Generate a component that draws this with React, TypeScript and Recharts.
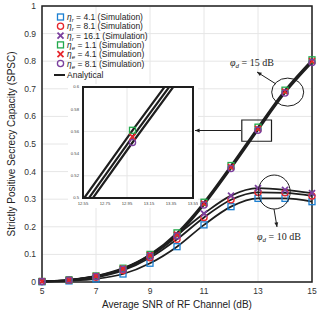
import React from "react"
import {
  CartesianGrid,
  ComposedChart,
  Line,
  LineChart,
  ReferenceArea,
  ReferenceDot,
  XAxis,
  YAxis,
} from "recharts"

// average SNR of the RF channel (dB)
const snr = [5, 6, 7, 8, 9, 10, 11, 12, 13, 14, 15]

// phi_d = 15 dB bundle (eta_e = 1.1, 4.1, 8.1)
const spsc15a = [0.002, 0.008, 0.022, 0.05, 0.1, 0.178, 0.289, 0.422, 0.561, 0.695, 0.805]
const spsc15b = [0.002, 0.007, 0.021, 0.048, 0.097, 0.172, 0.284, 0.416, 0.555, 0.69, 0.8]
const spsc15c = [0.002, 0.007, 0.02, 0.046, 0.094, 0.167, 0.279, 0.411, 0.55, 0.685, 0.795]

// phi_d = 10 dB bundle (eta_r = 16.1, 8.1, 4.1)
const spsc10a = [0.002, 0.007, 0.02, 0.047, 0.097, 0.17, 0.248, 0.313, 0.34, 0.334, 0.322]
const spsc10b = [0.002, 0.006, 0.017, 0.042, 0.088, 0.155, 0.234, 0.298, 0.325, 0.323, 0.312]
const spsc10c = [0.001, 0.004, 0.011, 0.029, 0.068, 0.128, 0.207, 0.273, 0.303, 0.303, 0.291]

const xTicks = [5, 7, 9, 11, 13, 15]
const yTicks = [0, 0.1, 0.2, 0.3, 0.4, 0.5, 0.6, 0.7, 0.8, 0.9, 1]
const insetXTicks = [12.55, 12.75, 12.95, 13.15, 13.35, 13.55]
const insetYTicks = [0.5, 0.52, 0.54, 0.56, 0.58, 0.6]
const insetMarkAt = 13

const BLUE = "#1b7fd1"
const RED = "#e6262c"
const PURPLE = "#7b3f9e"
const GREEN = "#22a94b"
const INK = "#1e1e1e"

const rows = snr.map((x, i) => ({
  snr: x,
  a15: spsc15a[i],
  b15: spsc15b[i],
  c15: spsc15c[i],
  a10: spsc10a[i],
  b10: spsc10b[i],
  c10: spsc10c[i],
}))

const insetRows = rows.filter((r) => r.snr >= 12 && r.snr <= 14)

type Shape = "square" | "circle" | "x"

function Marker({ shape, color, cx, cy }: { shape: Shape; color: string; cx: number; cy: number }) {
  if (shape === "square")
    return <rect x={cx - 3} y={cy - 3} width={6} height={6} fill="none" stroke={color} strokeWidth={1.3} />
  if (shape === "circle") return <circle cx={cx} cy={cy} r={3.1} fill="none" stroke={color} strokeWidth={1.3} />
  return (
    <g stroke={color} strokeWidth={1.8}>
      <line x1={cx - 3} y1={cy - 3} x2={cx + 3} y2={cy + 3} />
      <line x1={cx - 3} y1={cy + 3} x2={cx + 3} y2={cy - 3} />
    </g>
  )
}

const dotOf = (shape: Shape, color: string, only?: number) => (p: any) => {
  const k = `${shape}-${color}-${p.index}`
  if (p.cx == null || p.cy == null || (only != null && p.payload?.snr !== only)) return <g key={k} />
  return (
    <g key={k}>
      <Marker shape={shape} color={color} cx={p.cx} cy={p.cy} />
    </g>
  )
}

const ellipse = (rx: number, ry: number) => (p: any) =>
  <ellipse cx={p.cx} cy={p.cy} rx={rx} ry={ry} fill="none" stroke={INK} strokeWidth={1} />

const fmtY = (v: number) => (v === 0 ? "0" : v === 1 ? "1" : String(v))

const legend: { shape: Shape; color: string; sym: string; val: string }[] = [
  { shape: "square", color: BLUE, sym: "r", val: "4.1" },
  { shape: "circle", color: RED, sym: "r", val: "8.1" },
  { shape: "x", color: PURPLE, sym: "r", val: "16.1" },
  { shape: "square", color: GREEN, sym: "e", val: "1.1" },
  { shape: "x", color: RED, sym: "e", val: "4.1" },
  { shape: "circle", color: PURPLE, sym: "e", val: "8.1" },
]

function Arrow({ x1, y1, x2, y2 }: { x1: number; y1: number; x2: number; y2: number }) {
  const a = Math.atan2(y2 - y1, x2 - x1)
  const s = 5
  const p1 = [x2 - s * Math.cos(a - 0.4), y2 - s * Math.sin(a - 0.4)]
  const p2 = [x2 - s * Math.cos(a + 0.4), y2 - s * Math.sin(a + 0.4)]
  return (
    <g>
      <line x1={x1} y1={y1} x2={x2} y2={y2} stroke={INK} strokeWidth={1} />
      <polygon points={`${x2},${y2} ${p1[0]},${p1[1]} ${p2[0]},${p2[1]}`} fill={INK} />
    </g>
  )
}

function PhiLabel({ x, y, val }: { x: number; y: number; val: string }) {
  return (
    <text x={x} y={y} fontFamily="'Liberation Serif', 'DejaVu Serif', serif" fontSize={10} fill={INK}>
      <tspan fontStyle="italic">φ</tspan>
      <tspan fontStyle="italic" fontSize={7} dy={2}>d</tspan>
      <tspan dy={-2}>{` = ${val} dB`}</tspan>
    </text>
  )
}

export default function App() {
  const tick = { fontSize: 8.5, fill: "#333" }
  return (
    <div
      style={{
        position: "absolute",
        left: 0,
        top: 0,
        width: 323,
        height: 315,
        background: "#fff",
        fontFamily: "'Liberation Sans', Arial, sans-serif",
      }}
    >
      <ComposedChart width={323} height={315} data={rows} margin={{ top: 6, right: 11, bottom: 0, left: 2 }}>
        <CartesianGrid stroke="#e6e6e6" />
        <XAxis
          dataKey="snr"
          type="number"
          domain={[5, 15]}
          ticks={xTicks}
          tickLine={false}
          axisLine={false}
          tickSize={4}
          height={33}
          tick={tick}
          label={{ value: "Average SNR of RF Channel (dB)", position: "insideBottom", offset: 7, fontSize: 10, fill: "#222" }}
        />
        <YAxis
          type="number"
          domain={[0, 1]}
          ticks={yTicks}
          tickFormatter={fmtY}
          tickLine={false}
          axisLine={false}
          tickSize={4}
          width={40}
          tick={tick}
        />
        <ReferenceArea x1={5} x2={15} y1={0} y2={1} fill="none" stroke={INK} strokeWidth={1.5} />

        {(["a15", "b15", "c15", "a10", "b10", "c10"] as const).map((k) => (
          <Line key={k} dataKey={k} type="monotone" stroke={INK} strokeWidth={1.8} dot={false} activeDot={false} isAnimationActive={false} />
        ))}

        <Line dataKey="c10" stroke="none" dot={dotOf("square", BLUE)} activeDot={false} isAnimationActive={false} />
        <Line dataKey="b10" stroke="none" dot={dotOf("circle", RED)} activeDot={false} isAnimationActive={false} />
        <Line dataKey="a10" stroke="none" dot={dotOf("x", PURPLE)} activeDot={false} isAnimationActive={false} />
        <Line dataKey="a15" stroke="none" dot={dotOf("square", GREEN)} activeDot={false} isAnimationActive={false} />
        <Line dataKey="b15" stroke="none" dot={dotOf("x", RED)} activeDot={false} isAnimationActive={false} />
        <Line dataKey="c15" stroke="none" dot={dotOf("circle", PURPLE)} activeDot={false} isAnimationActive={false} />

        <ReferenceArea x1={12.4} x2={13.5} y1={0.51} y2={0.587} fill="none" stroke={INK} strokeWidth={1.2} />
        <ReferenceDot x={14.1} y={0.688} shape={ellipse(16, 14)} />
        <ReferenceDot x={13.6} y={0.326} shape={ellipse(16, 17)} />
      </ComposedChart>

      <div style={{ position: "absolute", left: 68, top: 84, width: 130, height: 124, background: "#fff" }}>
        <LineChart width={130} height={124} data={insetRows} margin={{ top: 3, right: 5, bottom: 0, left: 0 }}>
          <CartesianGrid stroke="#e6e6e6" />
          <XAxis
            dataKey="snr"
            type="number"
            domain={[12.55, 13.55]}
            ticks={insetXTicks}
            allowDataOverflow
            tickLine={false}
            axisLine={false}
            tickSize={2}
            height={10}
            tick={{ fontSize: 4.2, fill: "#444" }}
          />
          <YAxis
            type="number"
            domain={[0.5, 0.6]}
            ticks={insetYTicks}
            allowDataOverflow
            tickLine={false}
            axisLine={false}
            tickSize={2}
            width={15}
            tick={{ fontSize: 4.2, fill: "#444" }}
          />
          {(["a15", "b15", "c15"] as const).map((k) => (
            <Line key={k} dataKey={k} type="linear" stroke={INK} strokeWidth={2.2} dot={false} activeDot={false} isAnimationActive={false} />
          ))}
          <Line dataKey="a15" stroke="none" dot={dotOf("square", GREEN, insetMarkAt)} activeDot={false} isAnimationActive={false} />
          <Line dataKey="b15" stroke="none" dot={dotOf("x", RED, insetMarkAt)} activeDot={false} isAnimationActive={false} />
          <Line dataKey="c15" stroke="none" dot={dotOf("circle", PURPLE, insetMarkAt)} activeDot={false} isAnimationActive={false} />
          <ReferenceArea x1={12.55} x2={13.55} y1={0.5} y2={0.6} fill="none" stroke={INK} strokeWidth={2} />
        </LineChart>
      </div>

      <svg width={323} height={315} style={{ position: "absolute", left: 0, top: 0, pointerEvents: "none" }}>
        <text
          x={12}
          y={144}
          transform="rotate(-90, 12, 144)"
          textAnchor="middle"
          dominantBaseline="middle"
          fontSize={10}
          fill="#222"
        >
          Strictly Positive Secrecy Capacity (SPSC)
        </text>

        {legend.map((l, i) => {
          const y = 17 + i * 9.3
          return (
            <g key={i}>
              <Marker shape={l.shape} color={l.color} cx={60.5} cy={y} />
              <text x={67} y={y + 3} fontSize={8.5} fill="#222">
                <tspan fontStyle="italic">η</tspan>
                <tspan fontStyle="italic" fontSize={6} dy={2}>{l.sym}</tspan>
                <tspan dy={-2}>{` = ${l.val} (Simulation)`}</tspan>
              </text>
            </g>
          )
        })}
        <line x1={54} y1={75} x2={65} y2={75} stroke={INK} strokeWidth={2} />
        <text x={67} y={78} fontSize={8.5} fill="#222">Analytical</text>

        <PhiLabel x={230} y={66} val="15" />
        <Arrow x1={276} y1={84} x2={257} y2={72} />
        <Arrow x1={241} y1={130.5} x2={195} y2={130.5} />
        <Arrow x1={274} y1={209} x2={277} y2={227} />
        <PhiLabel x={257} y={240} val="10" />
      </svg>
    </div>
  )
}
